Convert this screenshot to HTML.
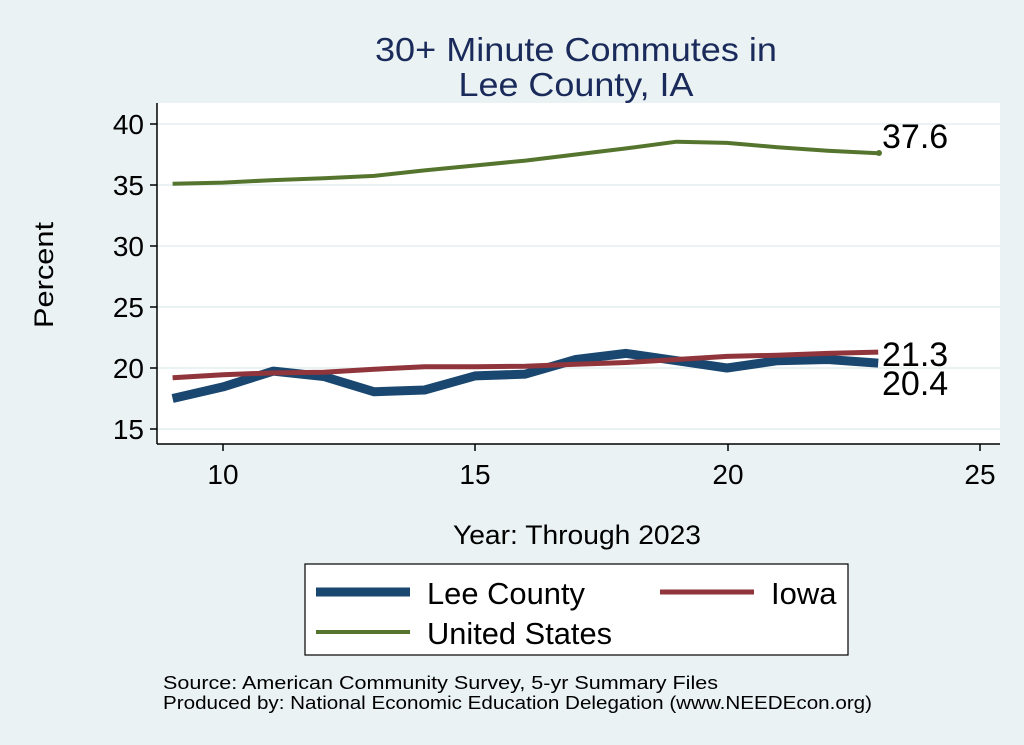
<!DOCTYPE html>
<html><head><meta charset="utf-8"><style>
body{margin:0;background:#eaf2f3;}
svg{display:block;font-family:"Liberation Sans",Arial,sans-serif;}
</style></head><body>
<svg id="s" width="1024" height="745" viewBox="0 0 1024 745" xmlns="http://www.w3.org/2000/svg">
<rect width="1024" height="745" fill="#eaf2f3"/>
<text x="576" y="61" font-size="33" fill="#1a2a5a" text-anchor="middle" textLength="402" lengthAdjust="spacingAndGlyphs">30+ Minute Commutes in</text>
<text x="576" y="96" font-size="33" fill="#1a2a5a" text-anchor="middle" textLength="235" lengthAdjust="spacingAndGlyphs">Lee County, IA</text>
<rect x="157" y="103" width="843" height="341" fill="#fff"/>
<g stroke="#eaf2f3" stroke-width="2">
<line x1="157" x2="1000" y1="124" y2="124"/><line x1="157" x2="1000" y1="185" y2="185"/>
<line x1="157" x2="1000" y1="246" y2="246"/><line x1="157" x2="1000" y1="307" y2="307"/>
<line x1="157" x2="1000" y1="368" y2="368"/><line x1="157" x2="1000" y1="429" y2="429"/>
</g>
<g stroke="#000" stroke-width="1.5">
<line x1="157" x2="157" y1="103" y2="444"/><line x1="157" x2="1000" y1="444" y2="444"/>
<line x1="150" x2="157" y1="124" y2="124"/><line x1="150" x2="157" y1="185" y2="185"/>
<line x1="150" x2="157" y1="246" y2="246"/><line x1="150" x2="157" y1="307" y2="307"/>
<line x1="150" x2="157" y1="368" y2="368"/><line x1="150" x2="157" y1="429" y2="429"/>
<line x1="223" x2="223" y1="444" y2="451"/><line x1="475" x2="475" y1="444" y2="451"/>
<line x1="728" x2="728" y1="444" y2="451"/><line x1="980" x2="980" y1="444" y2="451"/>
</g>
<g font-size="28" text-anchor="end" fill="#000">
<text x="144" y="134">40</text><text x="144" y="195">35</text><text x="144" y="256">30</text>
<text x="144" y="317">25</text><text x="144" y="378">20</text><text x="144" y="439">15</text>
</g>
<g font-size="28" text-anchor="middle" fill="#000">
<text x="223" y="484">10</text><text x="475" y="484">15</text><text x="728" y="484">20</text><text x="980" y="484">25</text>
</g>
<text x="53" y="275" font-size="27" text-anchor="middle" transform="rotate(-90 53 275)" textLength="106" lengthAdjust="spacingAndGlyphs">Percent</text>
<text x="577" y="544" font-size="27" text-anchor="middle" textLength="248" lengthAdjust="spacingAndGlyphs">Year: Through 2023</text>
<g id="lines" fill="none" stroke-linejoin="round"></g>
<circle cx="879" cy="153" r="3" fill="#55752f"/>
<text x="882" y="148" font-size="34">37.6</text>
<text x="882" y="366" font-size="34">21.3</text>
<text x="882" y="395" font-size="34">20.4</text>
<rect x="305" y="564" width="543" height="91" fill="#fff" stroke="#000" stroke-width="1.2"/>
<line x1="316" x2="410" y1="592" y2="592" stroke="#1a476f" stroke-width="9"/>
<text x="427" y="604" font-size="31" textLength="158" lengthAdjust="spacingAndGlyphs">Lee County</text>
<line x1="660" x2="754" y1="592" y2="592" stroke="#90353b" stroke-width="5"/>
<text x="771" y="604" font-size="31">Iowa</text>
<line x1="316" x2="410" y1="632" y2="632" stroke="#55752f" stroke-width="4"/>
<text x="427" y="644" font-size="31" textLength="185" lengthAdjust="spacingAndGlyphs">United States</text>
<text x="163" y="689" font-size="18" textLength="555" lengthAdjust="spacingAndGlyphs">Source: American Community Survey, 5-yr Summary Files</text>
<text x="163" y="709" font-size="18" textLength="709" lengthAdjust="spacingAndGlyphs">Produced by: National Economic Education Delegation (www.NEEDEcon.org)</text>
</svg>
<script>
var us=[35.1,35.2,35.4,35.55,35.75,36.2,36.6,37.0,37.5,38.0,38.55,38.45,38.1,37.8,37.6];
var ia=[19.2,19.45,19.6,19.65,19.9,20.1,20.1,20.15,20.3,20.45,20.7,20.95,21.05,21.2,21.3];
var lee=[17.5,18.45,19.75,19.3,18.05,18.2,19.35,19.5,20.7,21.2,20.6,20.0,20.6,20.7,20.4];
function pts(a){return a.map(function(v,i){return (172.6+50.4*i).toFixed(1)+","+(368-(v-20)*12.2).toFixed(1)}).join(" ");}
var g=document.getElementById("lines"),ns="http://www.w3.org/2000/svg";
[[lee,"#1a476f",9],[ia,"#90353b",5],[us,"#55752f",4]].forEach(function(d){
var p=document.createElementNS(ns,"polyline");p.setAttribute("points",pts(d[0]));p.setAttribute("stroke",d[1]);p.setAttribute("stroke-width",d[2]);g.appendChild(p);});
</script>
</body></html>
